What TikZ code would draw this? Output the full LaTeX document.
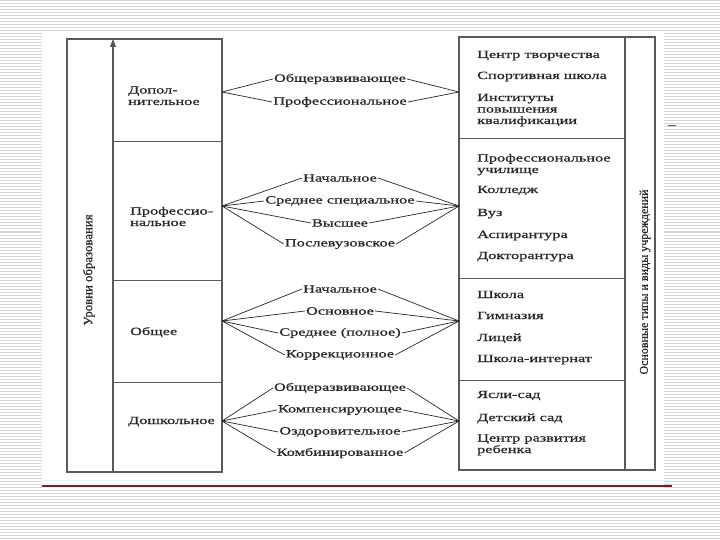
\documentclass[tikz,border=0pt]{standalone}
\usepackage{fontspec}
\setmainfont{Liberation Serif}[FakeStretch=1.48,FakeBold=0.8]
\newfontfamily\narrowfont{Liberation Serif}[FakeBold=0.6]
\usetikzlibrary{arrows.meta}
\definecolor{ink}{HTML}{262626}
\definecolor{frame}{HTML}{5A5A5A}
\definecolor{stripe}{HTML}{D6D6D6}
\definecolor{rule}{HTML}{7A1A1A}

\begin{document}
\begin{tikzpicture}[x=1pt,y=-1pt,
    box/.style={draw=frame,line width=1.3pt},
    lvl/.style={anchor=base west,font=\fontsize{11}{11.5}\selectfont,align=left,text=ink,inner sep=0pt},
    kind/.style={font=\fontsize{11}{11.5}\selectfont,text=ink,inner sep=1pt},
    inst/.style={anchor=base west,font=\fontsize{11}{11.5}\selectfont,align=left,text=ink,inner sep=0pt},
    side/.style={rotate=90,font=\narrowfont\fontsize{12}{12}\selectfont,text=ink,inner sep=0pt},
    fan/.style={draw=ink,line width=0.7pt}]
\useasboundingbox (0,0) rectangle (720,540);
\foreach \y in {1,4,...,539} \draw[stripe,line width=1pt] (0,\y) -- (720,\y);
\fill[white] (42,32) rectangle (664,489);
\draw[cyan!12,line width=1pt] (42,480) -- (670,480);
\draw[red!10,line width=1pt] (42,483) -- (670,483);
\draw[rule,line width=1.2pt] (42,486) -- (672,486);
\draw[frame,line width=.8pt] (668,125) -- (676,125);

\draw[box] (67,39) rectangle (222,472);
\draw[box,-{Triangle[length=8pt,width=6pt]}] (113,472) -- (113,39);
\foreach \y in {142,280,382} \draw[box,line width=1pt] (113,\y) -- (222,\y);
\node[side,font=\narrowfont\fontsize{12.8}{12.8}\selectfont] (levels) at (89,270) {Уровни образования};

\draw[box] (459,37) rectangle (655,470);
\draw[box] (625,37) -- (625,470);
\foreach \y in {139,278,380} \draw[box,line width=1pt] (459,\y) -- (625,\y);
\node[side] (types) at (645,282) {Основные типы и виды учреждений};

\node[lvl] (lvlA) at (128,105) {Допол-\\нительное};
\node[lvl] (lvlB) at (130,226) {Профессио-\\нальное};
\node[lvl] (lvlC) at (130,335) {Общее};
\node[lvl] (lvlD) at (128,424) {Дошкольное};

\foreach \t/\y [count=\i] in {Центр творчества/58, Спортивная школа/79,
    {Институты\\повышения\\квалификации}/124,
    {Профессиональное\\училище}/173, Колледж/193, Вуз/216, Аспирантура/238,
    Докторантура/259, Школа/298, Гимназия/319, Лицей/341, Школа-интернат/362,
    Ясли-сад/398, Детский сад/421, {Центр развития\\ребенка}/453}
  \node[inst] (inst\i) at (477,\y) {\t};

\foreach \g/\y in {A/92,B/206,C/321,D/421} {
  \coordinate (l\g) at (222,\y);
  \coordinate (r\g) at (459,\y);
}
\foreach \g/\t/\y [count=\i] in {A/Общеразвивающее/79, A/Профессиональное/102,
    B/Начальное/178, B/Среднее специальное/201, B/Высшее/223, B/Послевузовское/244,
    C/Начальное/289, C/Основное/311, C/Среднее (полное)/333, C/Коррекционное/355,
    D/Общеразвивающее/388, D/Компенсирующее/410, D/Оздоровительное/432,
    D/Комбинированное/453} {
  \node[kind] (kind\i) at (340,\y) {\t};
  \draw[fan] (l\g) -- (kind\i.west);
  \draw[fan] (kind\i.east) -- (r\g);
}
\end{tikzpicture}
\end{document}
